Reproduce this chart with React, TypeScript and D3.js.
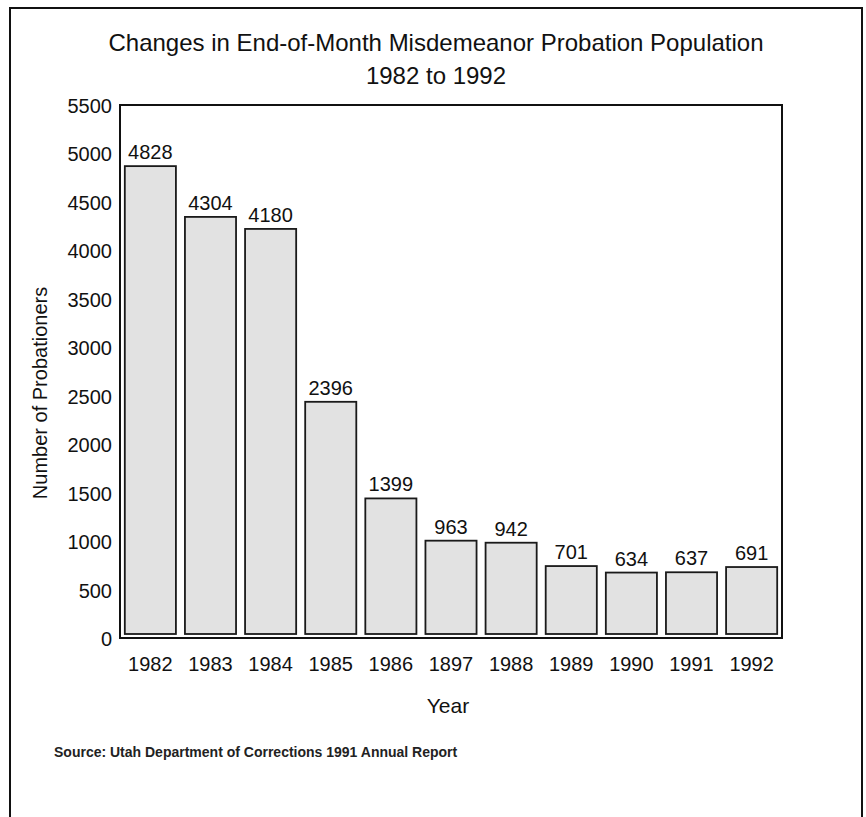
import React from "react";
import { scaleBand, scaleLinear, range } from "d3";

// categories as printed on the chart (the "1897" typo is in the original)
const years = ["1982", "1983", "1984", "1985", "1986", "1897", "1988", "1989", "1990", "1991", "1992"];
const probationers = [4828, 4304, 4180, 2396, 1399, 963, 942, 701, 634, 637, 691];
const yTicks = range(0, 5501, 500);

const W = 866;
const H = 817;
const plot = { left: 120, right: 782, top: 105, bottom: 638 };
const barInset = 4; // bars sit a little above the axis line in the scan

const font = "'Liberation Sans', Arial, Helvetica, sans-serif";

export default function App() {
  const x = scaleBand<string>()
    .domain(years)
    .range([plot.left, plot.right])
    .paddingInner(0.15)
    .paddingOuter(0.08);

  const y = scaleLinear().domain([0, 5500]).range([plot.bottom, plot.top]);

  return (
    <div style={{ position: "absolute", left: 0, top: 0 }}>
      <svg width={W} height={H} viewBox={`0 0 ${W} ${H}`} style={{ display: "block", background: "#fff" }}>
        {/* page frame, open at the bottom */}
        <path d={`M10,${H} V8 H862 V${H}`} fill="none" stroke="#111" strokeWidth={2} />

        <text x={436} y={51} textAnchor="middle" fontFamily={font} fontSize={24} fill="#111">
          Changes in End-of-Month Misdemeanor Probation Population
        </text>
        <text x={436} y={84} textAnchor="middle" fontFamily={font} fontSize={24} fill="#111">
          1982 to 1992
        </text>

        {/* plot frame */}
        <path
          d={`M${plot.left},${plot.bottom} V${plot.top} H${plot.right} V${plot.bottom} Z`}
          fill="none"
          stroke="#111"
          strokeWidth={2}
        />

        {/* y tick labels */}
        {yTicks.map((t) => (
          <text
            key={t}
            x={112}
            y={y(t) + 8}
            textAnchor="end"
            fontFamily={font}
            fontSize={20}
            fill="#111"
          >
            {t}
          </text>
        ))}

        {/* bars */}
        {years.map((yr, i) => {
          const v = probationers[i];
          const top = y(v) - barInset;
          const bottom = y(0) - barInset;
          const bx = x(yr)!;
          return (
            <g key={yr}>
              <rect
                x={bx}
                y={top}
                width={x.bandwidth()}
                height={bottom - top}
                fill="#e2e2e2"
                stroke="#1a1a1a"
                strokeWidth={1.8}
              />
              <text
                x={bx + x.bandwidth() / 2}
                y={top - 7}
                textAnchor="middle"
                fontFamily={font}
                fontSize={20}
                fill="#111"
              >
                {v}
              </text>
              <text
                x={bx + x.bandwidth() / 2}
                y={671}
                textAnchor="middle"
                fontFamily={font}
                fontSize={20}
                fill="#111"
              >
                {yr}
              </text>
            </g>
          );
        })}

        <text x={448} y={713} textAnchor="middle" fontFamily={font} fontSize={21} fill="#111">
          Year
        </text>

        <text
          transform={`translate(47,393) rotate(-90)`}
          textAnchor="middle"
          fontFamily={font}
          fontSize={20}
          fill="#111"
        >
          Number of Probationers
        </text>

        <text x={54} y={757} fontFamily={font} fontSize={14} fontWeight="bold" fill="#222">
          Source:  Utah Department of Corrections 1991 Annual Report
        </text>
      </svg>
    </div>
  );
}
